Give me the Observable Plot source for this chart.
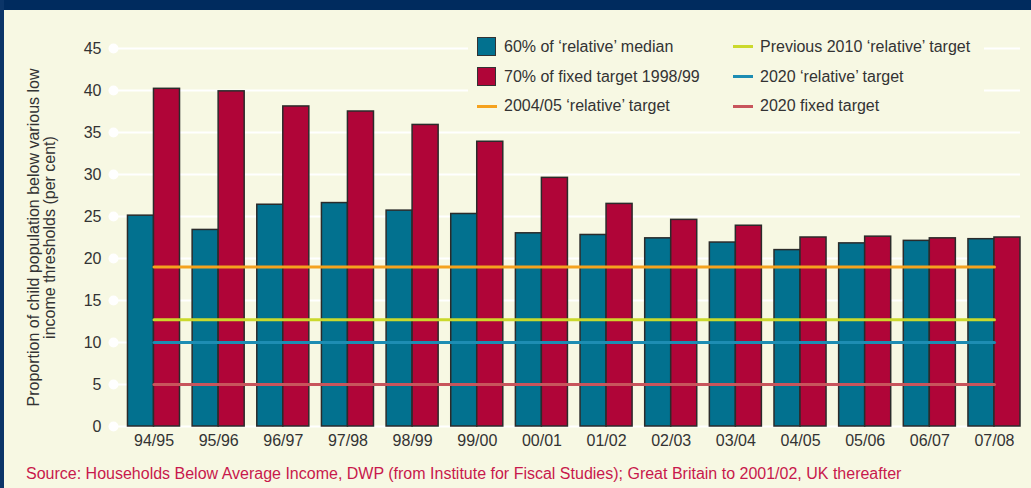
<!DOCTYPE html>
<html>
<head>
<meta charset="utf-8">
<script src="https://cdn.jsdelivr.net/npm/d3@7"></script>
<script src="https://cdn.jsdelivr.net/npm/@observablehq/plot@0.6"></script>
<style>
  body { margin: 0; background: #f7f8e3; font-family: "Liberation Sans", Arial, sans-serif; }
  #wrap { position: relative; width: 1031px; height: 488px; overflow: hidden; background: #f7f8e3; }
  #chart { position: absolute; left: 0; top: 0; }
  #band { position: absolute; left: 0; top: 0; width: 1031px; height: 10px; background: #002b5e; }
  #lborder { position: absolute; left: 0; top: 0; width: 4px; height: 488px; background: #0b3568; }
  #legend { position: absolute; left: 468px; top: 26px; width: 516px; height: 96px; background: #f7f8e3; }
  .sw { position: absolute; box-sizing: border-box; }
  .lab { position: absolute; font-size: 16px; line-height: 20px; color: #333; white-space: nowrap; }
  #caption { position: absolute; left: 26px; top: 465px; font-size: 16px; line-height: 18px; color: #c8194c; white-space: nowrap; }
</style>
</head>
<body>
<div id="wrap">
  <div id="chart"></div>
  <div id="band"></div>
  <div id="lborder"></div>
  <div id="legend"></div>
  <div id="caption"></div>
</div>
<script>
// ---- data ----
const years = ["94/95","95/96","96/97","97/98","98/99","99/00","00/01","01/02","02/03","03/04","04/05","05/06","06/07","07/08"];
const relativeMedian60 = [25.1, 23.4, 26.4, 26.6, 25.7, 25.3, 23.0, 22.8, 22.4, 21.9, 21.0, 21.8, 22.1, 22.3];
const fixed70of9899   = [40.2, 39.9, 38.1, 37.5, 35.9, 33.9, 29.6, 26.5, 24.6, 23.9, 22.5, 22.6, 22.4, 22.5];
const barSeries = ["60% of ‘relative’ median", "70% of fixed target 1998/99"];
const targetNames = ["2004/05 ‘relative’ target", "Previous 2010 ‘relative’ target", "2020 ‘relative’ target", "2020 fixed target"];
const targetValues = [19, 12.7, 10, 5];
const yTicks = [0, 5, 10, 15, 20, 25, 30, 35, 40, 45];
const yTitle = "Proportion of child population below various low\nincome thresholds (per cent)";
const sourceText = "Source: Households Below Average Income, DWP (from Institute for Fiscal Studies); Great Britain to 2001/02, UK thereafter";

// ---- styles ----
const barColors = ["#02718f", "#b00538"];
const targetColors = ["#f5a21e", "#cbd92c", "#1d8db3", "#c8555c"];
const edge = "#2b2b2b";

const blueData = years.map((year, i) => ({year, value: relativeMedian60[i]}));
const redData = years.map((year, i) => ({year, value: fixed70of9899[i]}));

const targetMarks = targetValues.map((v, k) =>
  Plot.lineY(years.map(year => ({year, value: v})), {
    x: "year", y: "value", stroke: targetColors[k], strokeWidth: 3
  })
);

const chart = Plot.plot({
  width: 1031,
  height: 488,
  marginLeft: 113,
  marginRight: 11,
  marginTop: 48,
  marginBottom: 62,
  style: {background: "transparent", fontSize: "16px", fontFamily: "Liberation Sans, Arial, sans-serif", color: "#333", overflow: "visible"},
  x: {type: "band", domain: years, paddingInner: 0.195, paddingOuter: 0.112, align: 1, round: false, tickSize: 0, tickPadding: 8, label: null},
  y: {domain: [0, 45], ticks: yTicks, tickSize: 0, tickPadding: 12, label: null},
  marks: [
    Plot.ruleY(yTicks, {stroke: "#ffffff", strokeWidth: 2}),
    Plot.dot(yTicks, {y: d => d, frameAnchor: "left", r: 5, fill: "#ffffff", stroke: null}),
    Plot.barY(blueData, {x: "year", y: "value", fill: barColors[0], stroke: edge, strokeWidth: 1.5, insetRight: 26}),
    Plot.barY(redData, {x: "year", y: "value", fill: barColors[1], stroke: edge, strokeWidth: 1.5, insetLeft: 26}),
    ...targetMarks,
    Plot.text([yTitle], {text: d => d, frameAnchor: "left", textAnchor: "middle", rotate: -90, dx: -72, fontSize: 16, lineHeight: 1, fill: "#333"})
  ]
});
document.getElementById("chart").appendChild(chart);

// ---- legend ----
const legend = document.getElementById("legend");
function add(cls, css, text) {
  const el = document.createElement("div");
  el.className = cls;
  el.style.cssText = css;
  if (text) el.textContent = text;
  legend.appendChild(el);
}
const rowTop = [10.5, 40.5, 70];
const colSw = [9, 265];
const colText = [36, 292];
barSeries.forEach((name, i) => {
  add("sw", `left:${colSw[0]}px;top:${rowTop[i] + 0.5}px;width:19px;height:19px;background:${barColors[i]};border:1px solid #333;`);
  add("lab", `left:${colText[0]}px;top:${rowTop[i]}px;`, name);
});
const lineSlots = [[0, 2], [1, 0], [1, 1], [1, 2]];
targetNames.forEach((name, k) => {
  const [c, r] = lineSlots[k];
  add("sw", `left:${colSw[c]}px;top:${rowTop[r] + 8.5}px;width:20px;height:3px;background:${targetColors[k]};`);
  add("lab", `left:${colText[c]}px;top:${rowTop[r]}px;`, name);
});

document.getElementById("caption").textContent = sourceText;
</script>
</body>
</html>
